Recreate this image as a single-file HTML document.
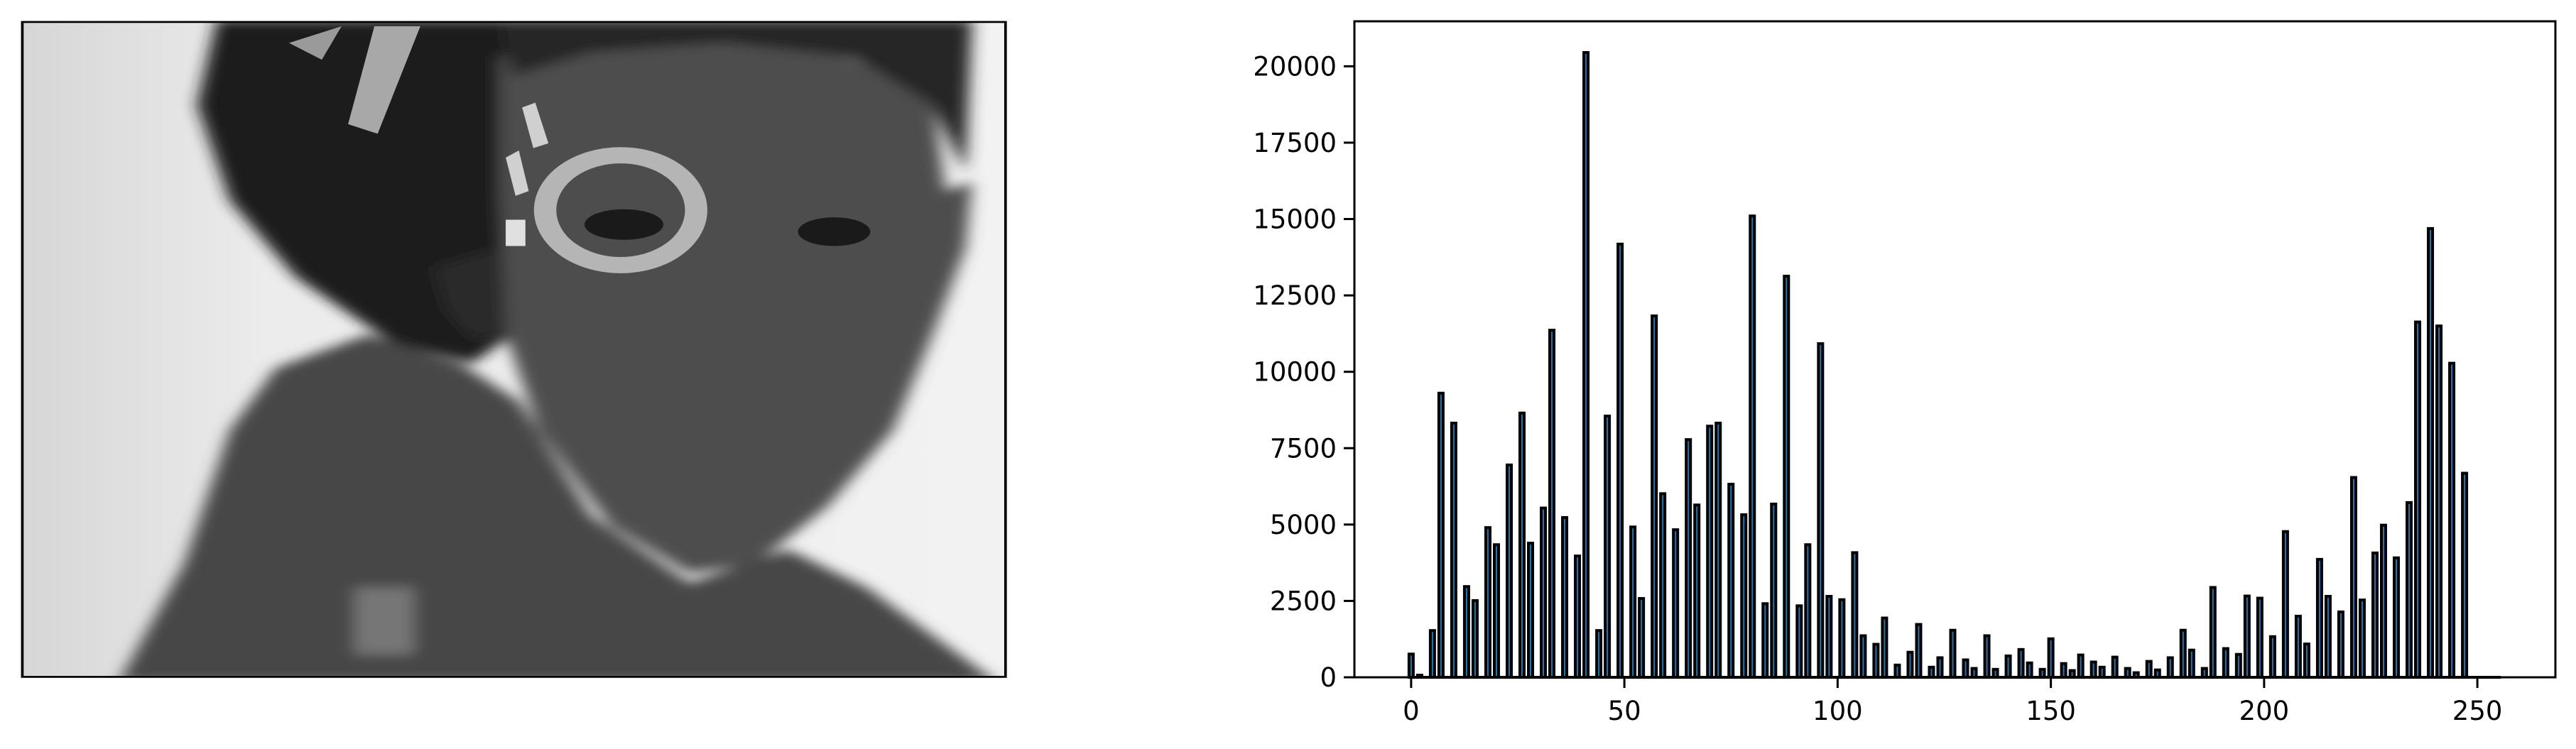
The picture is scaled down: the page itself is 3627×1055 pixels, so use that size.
<!DOCTYPE html>
<html><head><meta charset="utf-8">
<style>
html,body{margin:0;padding:0;background:#fff;}
#root{position:relative;width:3627px;height:1055px;overflow:hidden;background:#fff;font-family:"DejaVu Sans","Liberation Sans",sans-serif;}
</style></head>
<body>
<div id="root">
<svg style="position:absolute;left:0;top:0" width="1450" height="1055" viewBox="0 0 1568 1568" preserveAspectRatio="none">
  <defs>
    <linearGradient id="bg" x1="0" x2="1" y1="0" y2="0">
      <stop offset="0" stop-color="#d6d6d6"/><stop offset="0.25" stop-color="#ececec"/><stop offset="1" stop-color="#f2f2f2"/>
    </linearGradient>
    <filter id="bl" x="-10%" y="-10%" width="120%" height="120%"><feGaussianBlur stdDeviation="12"/></filter>
    <clipPath id="cp"><rect x="33" y="45" width="1499" height="1373"/></clipPath>
  </defs>
  <g clip-path="url(#cp)">
    <rect x="33" y="45" width="1499" height="1373" fill="url(#bg)"/>
    <g filter="url(#bl)">
      <polygon fill="#1c1c1c" points="330,40 780,40 820,200 780,700 720,760 600,720 450,580 350,420 300,220"/>
      <polygon fill="#4e4e4e" points="760,120 900,60 1200,60 1420,200 1440,400 1480,380 1470,520 1420,700 1360,900 1260,1060 1150,1180 1050,1200 930,1100 820,900 770,700 760,400"/>
      <polygon fill="#262626" points="760,40 1480,40 1470,360 1420,220 1300,120 1100,90 900,110 780,160"/>
      <polygon fill="#474747" points="180,1430 280,1180 350,900 420,770 560,700 700,760 790,840 900,1080 1050,1220 1200,1150 1320,1230 1520,1430"/>
      <polygon fill="#2a2a2a" points="660,560 760,520 770,700 720,710 680,650"/>
      <rect x="540" y="1230" width="90" height="140" fill="#8a8a8a" opacity="0.7"/>
    </g>
    <polygon fill="#9a9a9a" points="440,90 520,55 490,125"/>
    <polygon fill="#a8a8a8" points="570,55 640,55 575,280 530,260"/>
    <circle cx="945" cy="440" r="115" fill="none" stroke="#c8c8c8" stroke-width="34" opacity="0.85"/>
    <ellipse cx="950" cy="470" rx="60" ry="32" fill="#1a1a1a"/>
    <ellipse cx="1270" cy="485" rx="55" ry="30" fill="#1a1a1a"/>
    <rect x="770" y="460" width="30" height="55" fill="#e0e0e0"/>
    <polygon fill="#d0d0d0" points="770,330 790,315 805,400 785,410"/>
    <polygon fill="#d0d0d0" points="795,225 815,215 835,300 812,310"/>
  </g>
  <rect x="34" y="46" width="1497" height="1371" fill="none" stroke="#000" stroke-width="4"/>
</svg>
<svg id="chart" style="position:absolute;left:0;top:0" width="3627" height="1055"></svg>
</div>
<script>
const levels = [0,2,5,7,10,13,15,18,20,23,26,28,31,33,36,39,41,44,46,49,52,54,57,59,62,65,67,70,72,75,78,80,83,85,88,91,93,96,98,101,104,106,109,111,114,117,119,122,124,127,130,132,135,137,140,143,145,148,150,153,155,157,160,162,165,168,170,173,175,178,181,183,186,188,191,194,196,199,202,205,208,210,213,215,218,221,223,226,228,231,234,236,239,241,244,247];
const counts = [760,70,1530,9300,8320,2970,2510,4900,4340,6950,8650,4390,5540,11360,5230,3970,20450,1530,8550,14180,4920,2580,11830,6010,4830,7780,5640,8220,8320,6320,5320,15100,2410,5670,13130,2340,4340,10920,2650,2540,4080,1360,1080,1940,400,820,1730,330,640,1540,570,290,1360,260,700,910,470,260,1260,450,220,730,500,330,660,290,150,520,240,640,1540,890,290,2940,940,750,2660,2590,1330,4770,2000,1090,3860,2650,2140,6540,2530,4070,4980,3910,5720,11630,14690,11500,10280,6680];
const yTicks = [0,2500,5000,7500,10000,12500,15000,17500,20000];
const xTicks = [0,50,100,150,200,250];

const NS = 'http://www.w3.org/2000/svg';
const svg = document.getElementById('chart');
const L = 1907, R = 3598, T = 30, B = 954;
const xmin = -0.5 - 0.05*256, xmax = 255.5 + 0.05*256;
const ymax = Math.max(...counts) * 1.05;
function xs(v){ return L + (v - xmin) / (xmax - xmin) * (R - L); }
function ys(v){ return B - v / ymax * (B - T); }
function mk(tag, attrs){ const e = document.createElementNS(NS, tag); for (const k in attrs) e.setAttribute(k, attrs[k]); svg.appendChild(e); return e; }

for (let i = 0; i < levels.length; i++) {
  const x0 = xs(levels[i] - 0.5), x1 = xs(levels[i] + 0.5);
  const y0 = ys(counts[i]);
  const r = mk('rect', {x: x0, y: y0, width: x1 - x0, height: B - y0, fill: '#1f77b4', stroke: '#000', 'stroke-width': 4});
  
  
}
const base = mk('line', {x1: xs(-0.5), x2: xs(255.5), y1: B, y2: B, stroke: '#000', 'stroke-width': 4});



const frame = mk('rect', {x: L, y: T, width: R - L, height: B - T, fill: 'none', stroke: '#000', 'stroke-width': 3});



for (const t of yTicks) {
  const y = ys(t);
  const tk = mk('line', {x1: L - 15, x2: L, y1: y, y2: y, stroke: '#000', 'stroke-width': 3});
  
  
  const lb = mk('text', {x: L - 25, y: y + 13, 'text-anchor': 'end', 'font-size': 37, fill: '#000', 'font-family': 'DejaVu Sans, Liberation Sans, sans-serif'});
  lb.textContent = String(t);
  
  
}
for (const t of xTicks) {
  const x = xs(t);
  const tk = mk('line', {x1: x, x2: x, y1: B, y2: B + 15, stroke: '#000', 'stroke-width': 3});
  
  
  const lb = mk('text', {x: x, y: B + 60, 'text-anchor': 'middle', 'font-size': 37, fill: '#000', 'font-family': 'DejaVu Sans, Liberation Sans, sans-serif'});
  lb.textContent = String(t);
  
  
}
</script>
</body></html>
